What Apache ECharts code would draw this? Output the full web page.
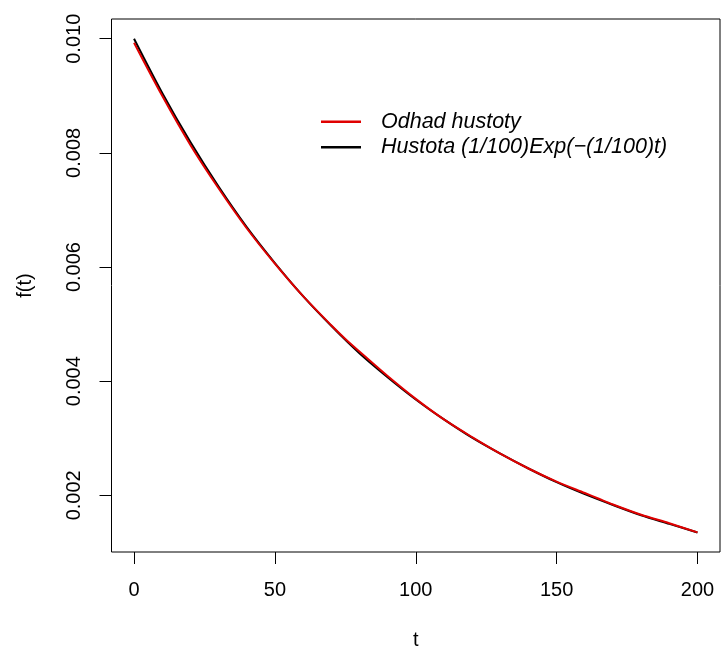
<!DOCTYPE html>
<html>
<head>
<meta charset="utf-8">
<script src="https://cdn.jsdelivr.net/npm/echarts@6/dist/echarts.min.js"></script>
<style>
  html, body { margin: 0; padding: 0; background: #fff; }
  #chart { width: 721px; height: 652px; }
</style>
</head>
<body>
<div id="chart"></div>
<script>
// Time points and density values
const tEst = [0, 10, 20, 30, 40, 50, 60, 70, 75, 80, 90, 100, 110, 120, 130, 140, 150, 160, 165, 170, 180, 190, 200];
const estimate = [0.00993, 0.00900, 0.00814, 0.00738, 0.00668, 0.00606, 0.00549, 0.00498, 0.00474, 0.00452, 0.00409,
                  0.00369, 0.00333, 0.00302, 0.00273, 0.00247, 0.00224, 0.00204, 0.00194, 0.00184, 0.00166, 0.00151, 0.00135];

const tTrue = [0, 10, 20, 30, 40, 50, 60, 70, 80, 90, 100, 110, 120, 130, 140, 150, 160, 170, 180, 190, 200];
const trueDensity = [0.01000, 0.00905, 0.00819, 0.00741, 0.00670, 0.00607, 0.00549, 0.00497, 0.00449, 0.00407,
                     0.00368, 0.00333, 0.00301, 0.00273, 0.00247, 0.00223, 0.00202, 0.00183, 0.00165, 0.00150, 0.00135];

const xTicks = [0, 50, 100, 150, 200];
const yTicks = [0.002, 0.004, 0.006, 0.008, 0.010];

const seriesNames = ['Odhad hustoty', 'Hustota (1/100)Exp(\u2212(1/100)t)'];

const FONT = 'Liberation Sans, Arial, Helvetica, sans-serif';

const chart = echarts.init(document.getElementById('chart'), null, { renderer: 'canvas' });

chart.setOption({
  animation: false,
  backgroundColor: '#ffffff',
  grid: {
    left: 111.5, top: 19, right: 1, bottom: 100,
    outerBoundsMode: 'none',
    containLabel: false,
    show: true, borderColor: '#000', borderWidth: 1, backgroundColor: 'transparent'
  },
  legend: {
    orient: 'vertical',
    left: 316, top: 104,
    itemWidth: 40, itemHeight: 2.5,
    itemGap: 0,
    icon: 'rect',
    data: seriesNames,
    textStyle: {
      fontFamily: FONT, fontSize: 21.5, fontStyle: 'italic', color: '#000',
      lineHeight: 25.5, padding: [0, 0, 0, 15]
    }
  },
  xAxis: {
    type: 'value',
    min: -8, max: 208,
    name: 't',
    nameLocation: 'middle',
    nameGap: 78,
    nameTextStyle: { fontFamily: FONT, fontSize: 20, color: '#000' },
    axisLine: { show: false, onZero: false },
    splitLine: { show: false },
    axisTick: { show: true, inside: false, length: 12, lineStyle: { color: '#000', width: 1 }, customValues: xTicks },
    axisLabel: { fontFamily: FONT, fontSize: 20, color: '#000', margin: 28, customValues: xTicks }
  },
  yAxis: {
    type: 'value',
    min: 0.001007, max: 0.010346,
    name: 'f(t)',
    nameLocation: 'middle',
    nameGap: 76,
    nameRotate: 90,
    nameTextStyle: { fontFamily: FONT, fontSize: 20, color: '#000' },
    axisLine: { show: false, onZero: false },
    splitLine: { show: false },
    axisTick: { show: true, inside: false, length: 12, lineStyle: { color: '#000', width: 1 }, customValues: yTicks },
    axisLabel: {
      fontFamily: FONT, fontSize: 20, color: '#000', margin: 27, rotate: 90,
      customValues: yTicks,
      formatter: v => v.toFixed(3)
    }
  },
  series: [
    {
      name: seriesNames[0],
      type: 'line',
      data: tEst.map((t, i) => [t, estimate[i]]),
      smooth: 0.3,
      symbol: 'none',
      color: '#E00000',
      lineStyle: { color: '#E00000', width: 2 },
      z: 3
    },
    {
      name: seriesNames[1],
      type: 'line',
      data: tTrue.map((t, i) => [t, trueDensity[i]]),
      smooth: 0.3,
      symbol: 'none',
      color: '#000000',
      lineStyle: { color: '#000000', width: 2 },
      z: 2
    }
  ]
});
</script>
</body>
</html>
